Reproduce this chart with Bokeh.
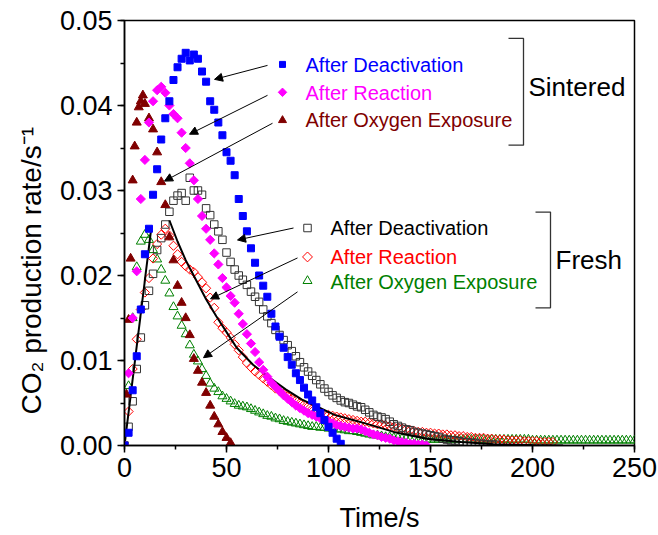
import numpy as np
from bokeh.plotting import figure
from bokeh.models import (Range1d, SingleIntervalTicker, NumeralTickFormatter,
                          Label, Arrow, NormalHead, Title)
from bokeh.embed import file_html
from bokeh.resources import INLINE

# ---------------- data ----------------
# Sintered, after deactivation (blue filled squares), sampled every 2 s
y_sint_deact = [0.0000, 0.0015, 0.0065, 0.0105, 0.0160, 0.0225, 0.0255, 0.0295, 0.0325, 0.0360,
                0.0385, 0.0405, 0.0430, 0.0445, 0.0455, 0.0462, 0.0453, 0.0460, 0.0455, 0.0440,
                0.0428, 0.0405, 0.0395, 0.0380, 0.0365, 0.0345, 0.0335, 0.0318, 0.0290, 0.0270,
                0.0252, 0.0232, 0.0215, 0.0200, 0.0188, 0.0175, 0.0155, 0.0140, 0.0128, 0.0115,
                0.0104, 0.0095, 0.0085, 0.0077, 0.0068, 0.0060, 0.0053, 0.0045, 0.0038, 0.0030,
                0.0022, 0.0015, 0.0008, 0.0002]
t_sint_deact = list(range(0, 2 * len(y_sint_deact), 2))

# Sintered, after reaction (magenta diamonds), every 2 s
y_sint_react = [0.0000, 0.0085, 0.0150, 0.0205, 0.0290, 0.0336, 0.0380, 0.0405, 0.0418, 0.0422,
                0.0415, 0.0400, 0.0390, 0.0385, 0.0368, 0.0350, 0.0332, 0.0312, 0.0290, 0.0270,
                0.0255, 0.0242, 0.0226, 0.0213, 0.0197, 0.0186, 0.0176, 0.0168, 0.0155, 0.0143,
                0.0131, 0.0120, 0.0110, 0.0098, 0.0089, 0.0081, 0.0074, 0.0069, 0.0064, 0.0059,
                0.0055, 0.0051, 0.0047, 0.0044, 0.0041, 0.0038, 0.0036, 0.0034, 0.0032, 0.0030,
                0.0028, 0.0026, 0.0024, 0.0023, 0.0022, 0.0021, 0.0020, 0.0020, 0.0019, 0.0017,
                0.0015, 0.0013, 0.0012, 0.0010, 0.0009, 0.0008, 0.0006, 0.0005, 0.0004, 0.0003,
                0.0002, 0.0002, 0.0001, 0.0001, 0.0000]
t_sint_react = list(range(0, 2 * len(y_sint_react), 2))

# Sintered, after oxygen exposure (dark red triangles)
t_sint_oxy = [0, 1, 2, 3, 4, 5, 6, 7, 8, 9, 10, 12, 14, 16, 18, 20, 22, 24, 26, 28, 30,
              32, 34, 36, 38, 40, 42, 44, 46, 48, 50, 52]
y_sint_oxy = [0.0000, 0.0060, 0.0148, 0.0220, 0.0312, 0.0352, 0.0380, 0.0398, 0.0405, 0.0412,
              0.0402, 0.0385, 0.0372, 0.0345, 0.0310, 0.0283, 0.0245, 0.0218, 0.0188, 0.0168,
              0.0150, 0.0130, 0.0102, 0.0088, 0.0074, 0.0062, 0.0047, 0.0034, 0.0025, 0.0016,
              0.0009, 0.0003]

# Fresh, after deactivation (open black squares), every 2 s
y_fresh_deact = [0.0000, 0.0022, 0.0052, 0.0090, 0.0127, 0.0165, 0.0182, 0.0202, 0.0230, 0.0244,
                 0.0260, 0.0275, 0.0288, 0.0294, 0.0297, 0.0288, 0.0315, 0.0300, 0.0300, 0.0295,
                 0.0279, 0.0271, 0.0260, 0.0252, 0.0242, 0.0227, 0.0216, 0.0207, 0.0200, 0.0195,
                 0.0189, 0.0181, 0.0175, 0.0169, 0.0160, 0.0152, 0.0144, 0.0136, 0.0130, 0.0124,
                 0.0118, 0.0111, 0.0105, 0.0098, 0.0092, 0.0087, 0.0082, 0.0077, 0.0072, 0.0067,
                 0.0063, 0.0059, 0.0056, 0.0053, 0.0051, 0.0050, 0.0048, 0.0046, 0.0045, 0.0042,
                 0.0039, 0.0036, 0.0034, 0.0033, 0.0031, 0.0028, 0.0025, 0.0023, 0.0021, 0.0019,
                 0.0018, 0.0016, 0.0015, 0.0014, 0.0013, 0.0012, 0.0011, 0.0010, 0.0008, 0.0007,
                 0.0006, 0.0006, 0.0005, 0.0004, 0.0004, 0.0003, 0.0003, 0.0002, 0.0002, 0.0001,
                 0.0001, 0.0001]
t_fresh_deact = list(range(0, 2 * len(y_fresh_deact), 2))

# Fresh, after reaction (open red diamonds), every 2 s
y_fresh_react = [0.0000, 0.0040, 0.0090, 0.0125, 0.0160, 0.0180, 0.0197, 0.0220, 0.0237, 0.0248,
                 0.0255, 0.0247, 0.0235, 0.0225, 0.0216, 0.0211, 0.0207, 0.0204, 0.0198, 0.0192,
                 0.0185, 0.0174, 0.0162, 0.0145, 0.0138, 0.0133, 0.0127, 0.0119, 0.0112, 0.0104,
                 0.0097, 0.0092, 0.0087, 0.0083, 0.0079, 0.0075, 0.0071, 0.0067, 0.0064, 0.0061,
                 0.0058, 0.0055, 0.0053, 0.0050, 0.0048, 0.0046, 0.0043, 0.0041, 0.0039, 0.0037,
                 0.0036, 0.0035, 0.0034, 0.0033, 0.0032, 0.0031, 0.0030, 0.0029, 0.0028, 0.0028,
                 0.0027, 0.0026, 0.0025, 0.0025, 0.0024, 0.0023, 0.0022, 0.0021, 0.0020, 0.0019,
                 0.0018, 0.0017, 0.0016, 0.0016, 0.0015, 0.0015, 0.0014, 0.0014, 0.0013, 0.0013,
                 0.0012, 0.0012, 0.0011, 0.0011, 0.0010, 0.0010, 0.0009, 0.0009, 0.0009, 0.0008,
                 0.0008, 0.0007, 0.0007, 0.0007, 0.0006, 0.0006, 0.0006, 0.0006, 0.0005, 0.0005,
                 0.0005, 0.0005, 0.0004, 0.0004, 0.0004, 0.0004]
t_fresh_react = list(range(0, 2 * len(y_fresh_react), 2))

# Fresh, after oxygen exposure (open green triangles), every 2 s
y_fresh_oxy = [0.0000, 0.0070, 0.0150, 0.0210, 0.0240, 0.0248, 0.0242, 0.0230, 0.0219, 0.0207,
               0.0194, 0.0179, 0.0163, 0.0152, 0.0141, 0.0131, 0.0118, 0.0107, 0.0099, 0.0090,
               0.0082, 0.0073, 0.0067, 0.0063, 0.0058, 0.0055, 0.0052, 0.0049, 0.0047, 0.0046,
               0.0045, 0.0043, 0.0041, 0.0039, 0.0037, 0.0035, 0.0034, 0.0032, 0.0031, 0.0029,
               0.0028, 0.0027, 0.0026, 0.0025, 0.0024, 0.0023, 0.0022, 0.0022, 0.0021, 0.0021,
               0.0020, 0.0020, 0.0019, 0.0019, 0.0018, 0.0017, 0.0017, 0.0016, 0.0015, 0.0014,
               0.0013, 0.0012, 0.0012, 0.0011, 0.0010, 0.0010, 0.0009, 0.0009, 0.0008, 0.0008,
               0.0008, 0.0008, 0.0007, 0.0007, 0.0007, 0.0007, 0.0007, 0.0007, 0.0007, 0.0007,
               0.0007, 0.0007, 0.0007, 0.0007, 0.0007, 0.0007, 0.0007, 0.0007, 0.0007, 0.0007,
               0.0007, 0.0007, 0.0007, 0.0007, 0.0007, 0.0007, 0.0007, 0.0007, 0.0007, 0.0007,
               0.0006, 0.0006, 0.0006, 0.0006, 0.0006, 0.0006, 0.0006, 0.0006, 0.0006, 0.0006,
               0.0006, 0.0006, 0.0006, 0.0006, 0.0006, 0.0006, 0.0006, 0.0006, 0.0006, 0.0006,
               0.0006, 0.0006, 0.0006, 0.0006, 0.0006, 0.0006]
t_fresh_oxy = list(range(0, 2 * len(y_fresh_oxy), 2))

# Black fit curves
t_fit_rise = [0, 13]
y_fit_rise = [0.0, 0.0253]
t_fit_decay = [22, 26, 30, 35, 40, 45, 52, 55, 63, 71, 79, 87, 95, 103, 112, 118,
               132, 148, 165, 181, 200, 215]
y_fit_decay = [0.0265, 0.0240, 0.0218, 0.0195, 0.0172, 0.0152, 0.0126, 0.0115, 0.0095,
               0.0080, 0.0066, 0.0054, 0.0045, 0.0036, 0.0030, 0.0026, 0.0016, 0.0008,
               0.0004, 0.00015, 0.00005, 0.0]

# ---------------- figure ----------------
FONT = "Liberation Sans"
p = figure(width=658, height=535, output_backend="svg", toolbar_location=None,
           x_range=Range1d(0, 250), y_range=Range1d(0, 0.05),
           min_border_left=124, min_border_right=24, min_border_top=20,
           min_border_bottom=89)
p.xgrid.visible = False
p.ygrid.visible = False
p.outline_line_color = "black"
p.outline_line_width = 1.5
p.background_fill_color = "white"
p.border_fill_color = "white"

p.xaxis.ticker = SingleIntervalTicker(interval=50, num_minor_ticks=2)
p.yaxis.ticker = SingleIntervalTicker(interval=0.01, num_minor_ticks=2)
p.yaxis.formatter = NumeralTickFormatter(format="0.00")
for ax in (p.xaxis[0], p.yaxis[0]):
    ax.axis_line_color = "black"
    ax.axis_line_width = 1.5
    ax.major_tick_line_color = "black"
    ax.major_tick_line_width = 1.5
    ax.minor_tick_line_color = "black"
    ax.minor_tick_line_width = 1.5
    ax.major_tick_out = 7
    ax.major_tick_in = 0
    ax.minor_tick_out = 4
    ax.minor_tick_in = 0
    ax.major_label_text_font = FONT
    ax.major_label_text_font_size = "27px"
    ax.major_label_text_color = "black"
    ax.major_label_standoff = 5

p.xaxis.axis_label = "Time/s"
p.xaxis.axis_label_text_font = FONT
p.xaxis.axis_label_text_font_size = "27px"
p.xaxis.axis_label_text_font_style = "normal"
p.xaxis.axis_label_text_color = "black"
p.xaxis.axis_label_standoff = 23

ylab = Title(text="CO\u2082 production rate/s\u207b\u00b9", align="left", offset=31,
             text_font=FONT, text_font_size="28px", text_font_style="normal",
             text_color="black", standoff=20)
p.add_layout(ylab, "left")

# mapping helpers for annotation layout (page pixels -> data units)
def dx(px):
    return (px - 124) * 250.0 / 510.0

def dy(py):
    return (446 - py) * 0.05 / 426.0

# fresh series
p.scatter(t_fresh_oxy, y_fresh_oxy, marker="triangle", size=9, fill_alpha=0,
          line_color="#008000", line_width=1)
p.scatter(t_fresh_react, y_fresh_react, marker="square", angle=np.pi / 4, size=6.5,
          fill_alpha=0, line_color="#FF0000", line_width=1)
p.scatter(t_fresh_deact, y_fresh_deact, marker="square", size=7.5, fill_alpha=0,
          line_color="#333333", line_width=1)

# fits
p.line(t_fit_rise, y_fit_rise, line_color="black", line_width=2)
p.line(t_fit_decay, y_fit_decay, line_color="black", line_width=2)

# sintered series
p.scatter(t_sint_oxy, y_sint_oxy, marker="triangle", size=9, fill_color="#800000",
          line_color="#800000")
p.scatter(t_sint_react, y_sint_react, marker="square", angle=np.pi / 4, size=6.5,
          fill_color="#FF00FF", line_color="#FF00FF")
p.scatter(t_sint_deact, y_sint_deact, marker="square", size=7, fill_color="#0000FF",
          line_color="#0000FF")

# ---------------- annotations ----------------
arrows = [((267, 65), (214, 79)), ((267, 95), (189, 134)), ((272, 123), (164, 181)),
          ((293, 228), (237, 240)), ((297, 258), (210, 299)), ((297, 292), (203, 358))]
for (x0, y0), (x1, y1) in arrows:
    p.add_layout(Arrow(x_start=dx(x0), y_start=dy(y0), x_end=dx(x1), y_end=dy(y1),
                       line_color="black", line_width=1,
                       end=NormalHead(size=8, fill_color="black", line_color="black",
                                      line_width=1)))

# legend-like markers
p.scatter([dx(282)], [dy(64)], marker="square", size=6, fill_color="#0000FF", line_color="#0000FF")
p.scatter([dx(282)], [dy(92)], marker="square", angle=np.pi / 4, size=6, fill_color="#FF00FF",
          line_color="#FF00FF")
p.scatter([dx(282)], [dy(120)], marker="triangle", size=8, fill_color="#800000",
          line_color="#800000")
p.scatter([dx(307)], [dy(228)], marker="square", size=7.5, fill_alpha=0, line_color="#333333")
p.scatter([dx(307)], [dy(257)], marker="square", angle=np.pi / 4, size=7, fill_alpha=0,
          line_color="#FF0000")
p.scatter([dx(307)], [dy(281)], marker="triangle", size=9, fill_alpha=0, line_color="#008000")

labels = [("After Deactivation", 305, 65, "#0000FF"),
          ("After Reaction", 305, 93, "#FF00FF"),
          ("After Oxygen Exposure", 305, 120, "#800000"),
          ("After Deactivation", 330, 228, "black"),
          ("After Reaction", 330, 257, "#FF0000"),
          ("After Oxygen Exposure", 330, 282, "#008000")]
for txt, x, y, c in labels:
    p.add_layout(Label(x=dx(x), y=dy(y), text=txt, text_color=c, text_font=FONT,
                       text_font_size="20px", text_align="left", text_baseline="middle"))

# brackets
p.line([dx(508), dx(523), dx(523), dx(508)], [dy(38), dy(38), dy(145), dy(145)],
       line_color="#333333", line_width=1.3)
p.line([dx(535), dx(550), dx(550), dx(535)], [dy(212), dy(212), dy(308), dy(308)],
       line_color="#333333", line_width=1.3)
p.add_layout(Label(x=dx(528), y=dy(87), text="Sintered", text_font=FONT, text_font_size="26px",
                   text_color="black", text_align="left", text_baseline="middle"))
p.add_layout(Label(x=dx(555), y=dy(260), text="Fresh", text_font=FONT, text_font_size="26px",
                   text_color="black", text_align="left", text_baseline="middle"))

open("out.html", "w").write(file_html(p, INLINE))
